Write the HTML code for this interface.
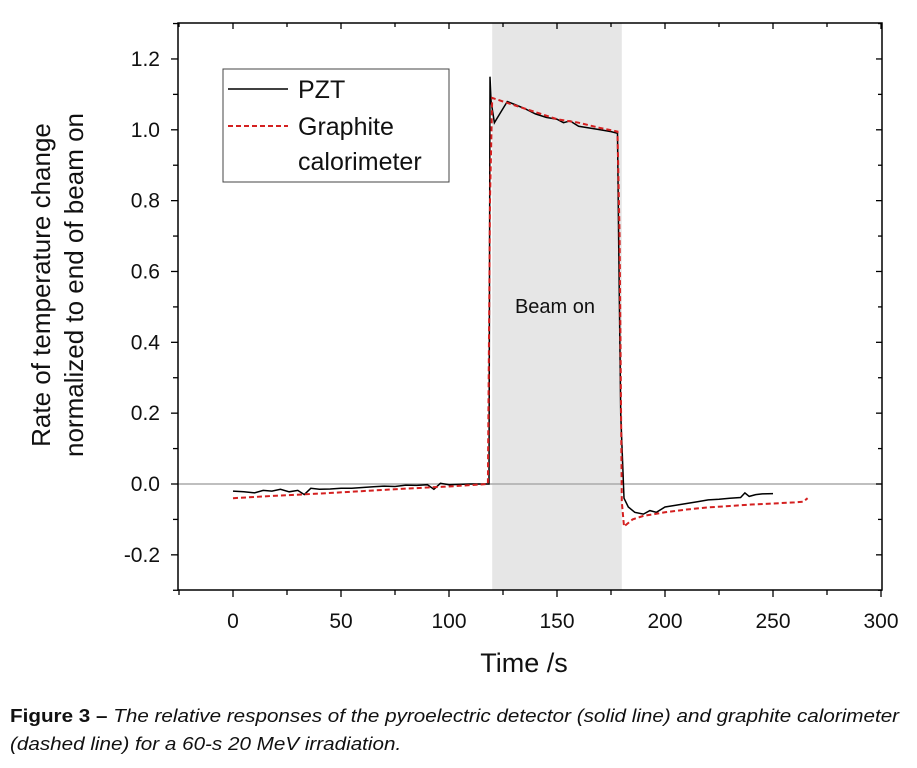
<!DOCTYPE html>
<html><head><meta charset="utf-8"><style>
body{margin:0;background:#fff;width:917px;height:768px;overflow:hidden;font-family:"Liberation Sans",sans-serif}
svg{position:absolute;left:0;top:0}
.cap{position:absolute;left:10px;font-size:18.6px;color:#111;font-style:italic;white-space:nowrap;transform:scaleX(1.11);transform-origin:0 0}
</style></head><body>
<svg id="chart" width="917" height="768"></svg>
<div class="cap" style="top:705px"><b style="font-style:normal">Figure 3 –</b> The relative responses of the pyroelectric detector (solid line) and graphite calorimeter</div>
<div class="cap" style="top:733px">(dashed line) for a 60-s 20 MeV irradiation.</div>
<script>
const xTicks=[0,50,100,150,200,250,300];
const yTicks=[-0.2,0,0.2,0.4,0.6,0.8,1.0,1.2];
const yTickLabels=["-0.2","0.0","0.2","0.4","0.6","0.8","1.0","1.2"];
const beamOn=[120,180];
const pztX=[0,5,10,14,18,22,26,30,33,36,40,45,50,55,60,65,70,75,80,85,90,93,96,100,105,110,115,118.5,119,119.5,121,124,127,131,135,140,145,150,153,156,160,165,170,175,178,178.5,179.5,181,183,186,190,193,196,200,205,210,215,220,225,230,235,237,239,242,245,250];
const pztY=[-0.02,-0.022,-0.025,-0.018,-0.02,-0.015,-0.022,-0.018,-0.03,-0.012,-0.015,-0.014,-0.012,-0.012,-0.01,-0.008,-0.006,-0.007,-0.003,-0.004,-0.002,-0.015,0.002,-0.002,-0.001,0.0,0.0,0.0,1.15,1.08,1.02,1.05,1.08,1.07,1.06,1.045,1.035,1.03,1.02,1.025,1.01,1.005,1.0,0.995,0.99,0.7,0.2,-0.04,-0.065,-0.08,-0.085,-0.075,-0.08,-0.065,-0.06,-0.055,-0.05,-0.045,-0.043,-0.04,-0.038,-0.025,-0.035,-0.03,-0.028,-0.027];
const grX=[0,20,40,60,80,100,110,118,119,120,125,130,140,150,160,170,178,179,180,181,185,190,195,200,210,220,230,240,250,260,264,266];
const grY=[-0.04,-0.033,-0.027,-0.02,-0.013,-0.007,-0.003,0.0,0.8,1.09,1.08,1.07,1.05,1.03,1.02,1.005,0.995,0.7,-0.05,-0.12,-0.1,-0.09,-0.085,-0.08,-0.072,-0.066,-0.062,-0.058,-0.055,-0.052,-0.05,-0.04];
const ns="http://www.w3.org/2000/svg";
const svg=document.getElementById('chart');
const X=v=>233+(v*648/300);
const Y=v=>484-(v*354.2);
function mk(t,a,p){const e=document.createElementNS(ns,t);for(const k in a)e.setAttribute(k,a[k]);(p||svg).appendChild(e);return e;}
let r=mk('rect',{x:X(beamOn[0]),y:23,width:X(beamOn[1])-X(beamOn[0]),height:567,fill:'#e6e6e6'});


let z=mk('line',{x1:178,x2:882,y1:Y(0),y2:Y(0),stroke:'#aaa','stroke-width':1.5});


let t=mk('text',{x:555,y:313,'font-size':20,'text-anchor':'middle',fill:'#111'});t.textContent='Beam on';


function series(xs,ys,attrs,name){const d=xs.map((x,i)=>(i?'L':'M')+X(x).toFixed(1)+','+Y(ys[i]).toFixed(1)).join('');const p=mk('path',Object.assign({d:d,fill:'none'},attrs));}
series(pztX,pztY,{stroke:'#000','stroke-width':1.5},'pzt-line');
series(grX,grY,{stroke:'#d42020','stroke-width':2,'stroke-dasharray':'5,3'},'graphite-line');
let f=mk('rect',{x:178,y:23,width:704,height:567,fill:'none',stroke:'#000','stroke-width':1.5});


for(let v=-25;v<=300;v+=25){const maj=v%50===0;
 let a=mk('line',{x1:X(v),x2:X(v),y1:590,y2:590+(maj?7:5),stroke:'#000','stroke-width':1.3});
 let b=mk('line',{x1:X(v),x2:X(v),y1:23,y2:23+(maj?6:4),stroke:'#000','stroke-width':1.3});}
xTicks.forEach(v=>{let l=mk('text',{x:X(v),y:628,'font-size':21,'text-anchor':'middle',fill:'#111'});l.textContent=v;});
for(let v=-0.3;v<=1.31;v+=0.1){const maj=Math.round(v*10)%2===0;
 let a=mk('line',{x1:178-(maj?7:5),x2:178,y1:Y(v),y2:Y(v),stroke:'#000','stroke-width':1.3});
 let b=mk('line',{x1:882-(maj?6:4),x2:882,y1:Y(v),y2:Y(v),stroke:'#000','stroke-width':1.3});}
yTicks.forEach((v,i)=>{let l=mk('text',{x:160,y:Y(v)+7,'font-size':21,'text-anchor':'end',fill:'#111'});l.textContent=yTickLabels[i];});
let xt=mk('text',{x:524,y:672,'font-size':27,'text-anchor':'middle',fill:'#111','xml:space':'preserve'});xt.textContent='Time  /s';

let yt=mk('text',{transform:'translate(50,285) rotate(-90)','font-size':26,'text-anchor':'middle',fill:'#111'});yt.textContent='Rate of temperature change';

let yt2=mk('text',{transform:'translate(83,285) rotate(-90)','font-size':26,'text-anchor':'middle',fill:'#111'});yt2.textContent='normalized to end of beam on';

const g=mk('g',{});
mk('rect',{x:223,y:69,width:226,height:113,fill:'#fff',stroke:'#444','stroke-width':1},g);
mk('line',{x1:228,x2:288,y1:89,y2:89,stroke:'#000','stroke-width':1.5},g);
mk('line',{x1:228,x2:288,y1:126,y2:126,stroke:'#d42020','stroke-width':2,'stroke-dasharray':'5,3'},g);
[['PZT',98],['Graphite',135],['calorimeter',170]].forEach(([s,y])=>{let l=mk('text',{x:298,y:y,'font-size':25,fill:'#111'},g);l.textContent=s;});
</script>
</body></html>
